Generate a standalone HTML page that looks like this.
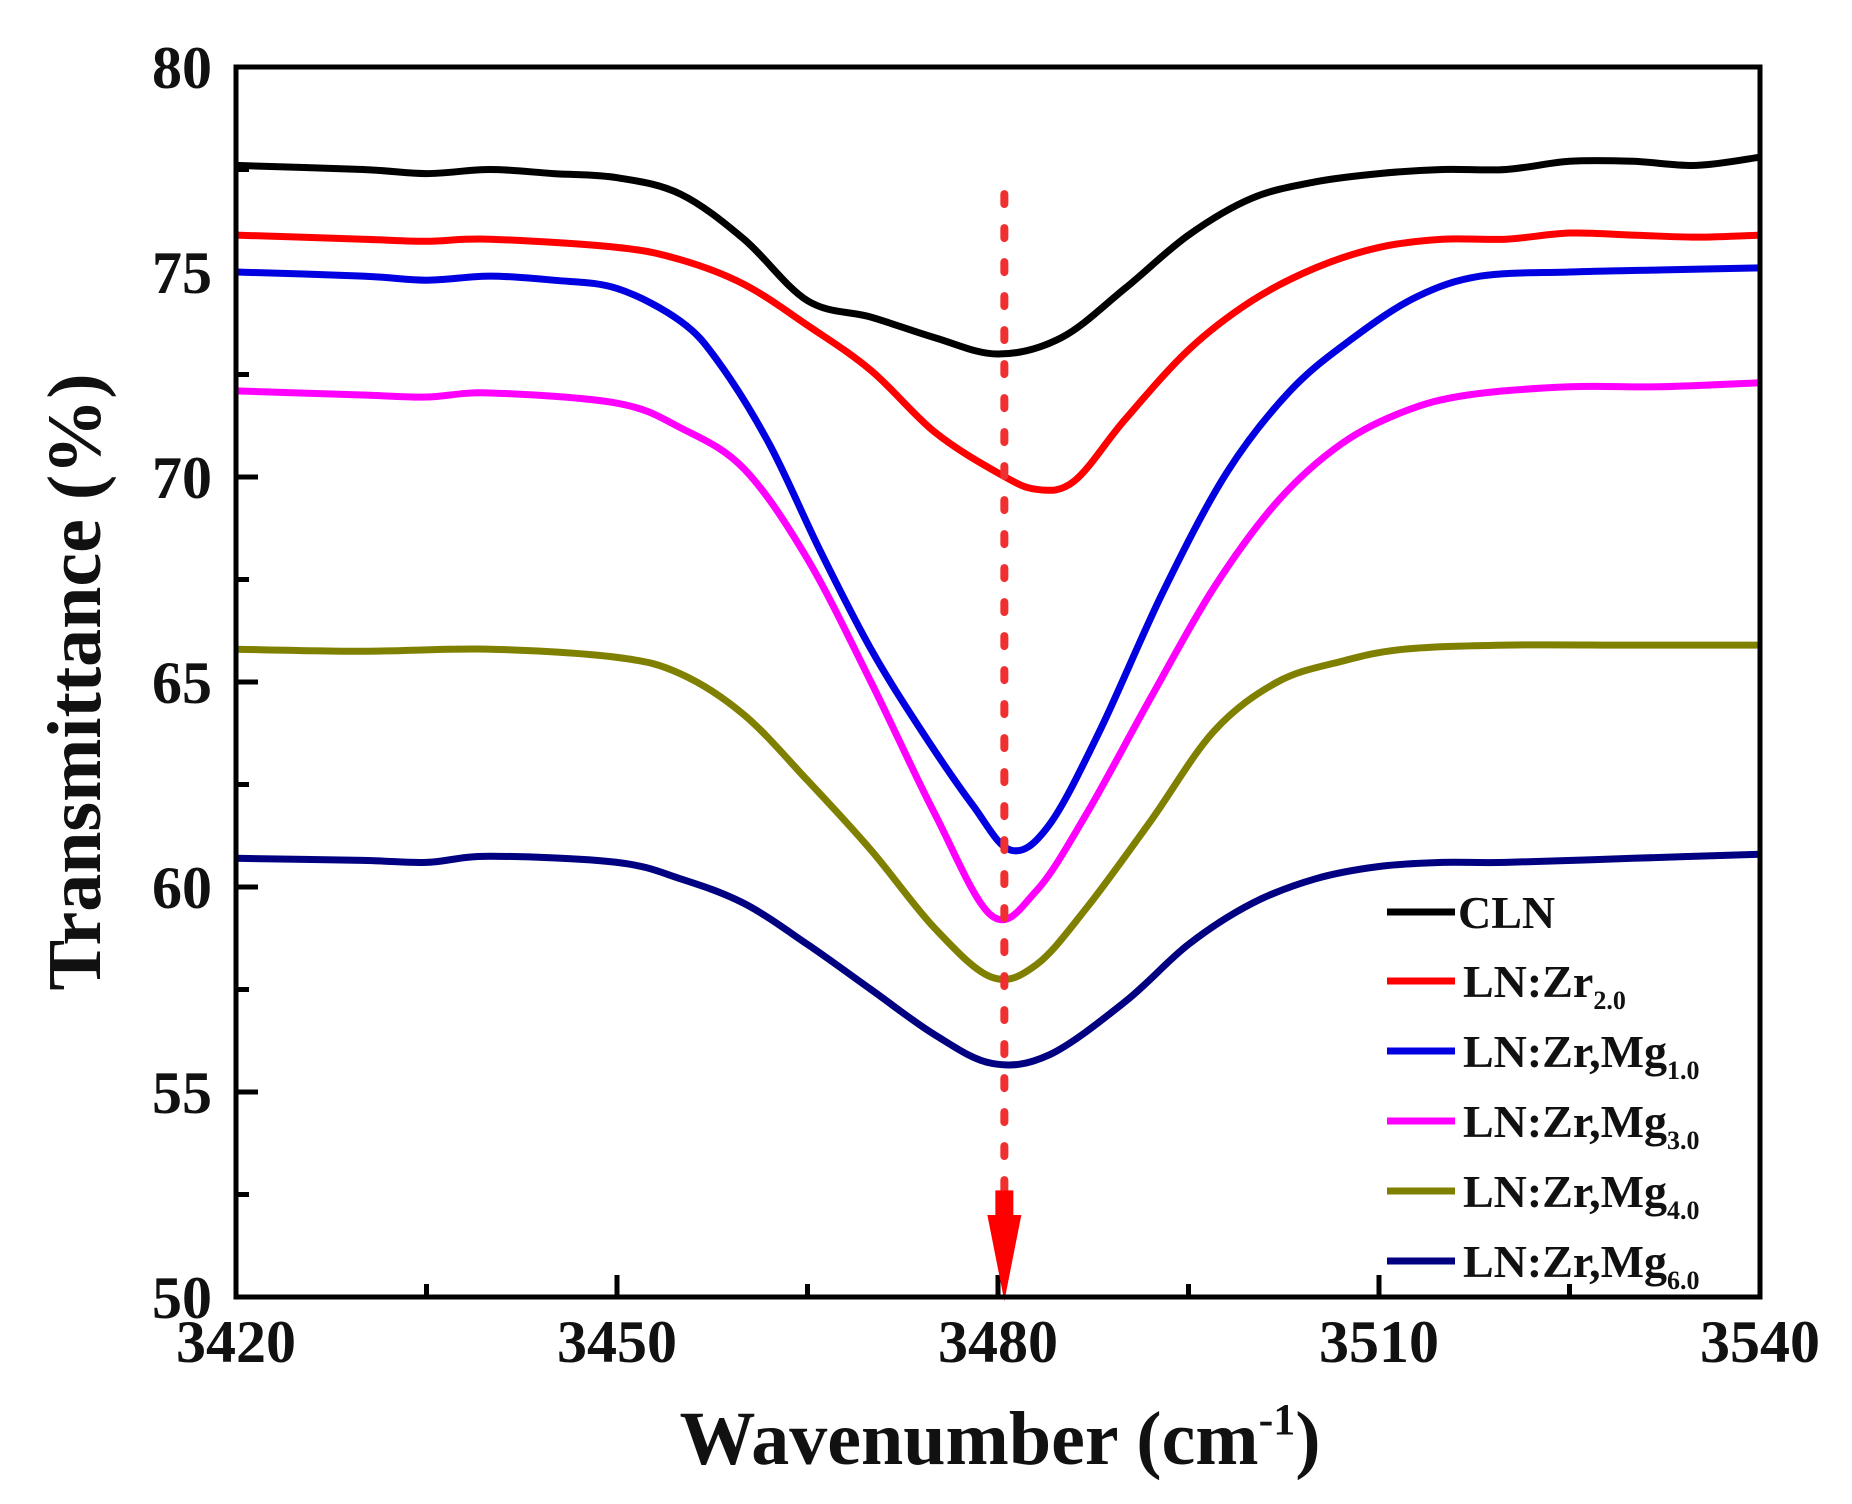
<!DOCTYPE html>
<html><head><meta charset="utf-8"><style>
html,body{margin:0;padding:0;background:#fff;}
svg{display:block;}
text{font-family:"Liberation Serif",serif;font-weight:bold;fill:#111;}
</style></head><body>
<svg id="s" width="1852" height="1504" viewBox="0 0 1852 1504" xmlns="http://www.w3.org/2000/svg">
<g id="g"></g>
<rect x="236" y="67" width="1524" height="1230" fill="none" stroke="#000" stroke-width="5"/>
<g font-size="60" text-anchor="end">
<text x="212" y="88">80</text><text x="212" y="293">75</text><text x="212" y="498">70</text>
<text x="212" y="703">65</text><text x="212" y="908">60</text><text x="212" y="1113">55</text><text x="212" y="1318">50</text>
</g>
<g font-size="60" text-anchor="middle">
<text x="236" y="1362">3420</text><text x="617" y="1362">3450</text><text x="998" y="1362">3480</text>
<text x="1379" y="1362">3510</text><text x="1760" y="1362">3540</text>
</g>
<text x="1000" y="1464" font-size="76" text-anchor="middle">Wavenumber (cm<tspan dy="-30" font-size="44">-1</tspan><tspan dy="30">)</tspan></text>
<text transform="translate(100,682) rotate(-90)" font-size="76" text-anchor="middle">Transmittance (%)</text>
<g font-size="46">
<line x1="1387" y1="912" x2="1455" y2="912" stroke="#000" stroke-width="7"/><text x="1458" y="928">CLN</text>
<line x1="1387" y1="981" x2="1455" y2="981" stroke="#f00" stroke-width="7"/><text x="1463" y="997">LN:Zr<tspan font-size="26" dy="12">2.0</tspan></text>
<line x1="1387" y1="1051" x2="1455" y2="1051" stroke="#0000e0" stroke-width="7"/><text x="1463" y="1067">LN:Zr,Mg<tspan font-size="26" dy="12">1.0</tspan></text>
<line x1="1387" y1="1121" x2="1455" y2="1121" stroke="#f0f" stroke-width="7"/><text x="1463" y="1137">LN:Zr,Mg<tspan font-size="26" dy="12">3.0</tspan></text>
<line x1="1387" y1="1191" x2="1455" y2="1191" stroke="#808000" stroke-width="7"/><text x="1463" y="1207">LN:Zr,Mg<tspan font-size="26" dy="12">4.0</tspan></text>
<line x1="1387" y1="1261" x2="1455" y2="1261" stroke="#000080" stroke-width="7"/><text x="1463" y="1277">LN:Zr,Mg<tspan font-size="26" dy="12">6.0</tspan></text>
</g>
</svg>
<script>
var X=function(v){return 236+(v-3420)*1524/120;},Y=function(v){return 67+(80-v)*41;};
var g=document.getElementById('g'),h="";
for(var v=3420;v<=3540;v+=15){var big=(v-3420)%30==0;h+='<line x1="'+X(v)+'" x2="'+X(v)+'" y1="1297" y2="'+(1297-(big?22:13))+'" stroke="#000" stroke-width="5"/>';}
for(var v=50;v<=80;v+=2.5){var big=v%5==0;h+='<line y1="'+Y(v)+'" y2="'+Y(v)+'" x1="236" x2="'+(236+(big?22:13))+'" stroke="#000" stroke-width="5"/>';}
var S=[["#000",[[3420,77.6],[3430,77.5],[3435,77.4],[3440,77.5],[3445,77.4],[3450,77.3],[3455,76.9],[3460,75.8],[3465,74.3],[3470,73.9],[3475,73.4],[3480,73],[3485,73.4],[3490,74.6],[3495,75.9],[3500,76.8],[3505,77.2],[3510,77.4],[3515,77.5],[3520,77.5],[3525,77.7],[3530,77.7],[3535,77.6],[3540,77.8]]],
["#f00",[[3420,75.9],[3430,75.8],[3435,75.75],[3440,75.8],[3450,75.6],[3455,75.3],[3460,74.7],[3465,73.7],[3470,72.6],[3475,71.1],[3480,70.1],[3483,69.7],[3486,69.9],[3490,71.4],[3495,73.1],[3500,74.3],[3505,75.1],[3510,75.6],[3515,75.8],[3520,75.8],[3525,75.95],[3530,75.9],[3535,75.85],[3540,75.9]]],
["#0000e0",[[3420,75],[3430,74.9],[3435,74.8],[3440,74.9],[3445,74.8],[3450,74.6],[3455,73.8],[3458,72.8],[3462,70.8],[3466,68.2],[3470,65.8],[3474,63.8],[3478,62.0],[3481,60.9],[3484,61.5],[3488,63.8],[3493,67.2],[3498,70.1],[3503,72.1],[3508,73.4],[3513,74.4],[3518,74.9],[3525,75],[3532,75.05],[3540,75.1]]],
["#f0f",[[3420,72.1],[3430,72],[3435,71.95],[3440,72.05],[3450,71.8],[3455,71.2],[3460,70.2],[3465,68.0],[3470,65.0],[3475,61.8],[3479.5,59.3],[3483,59.9],[3487,61.8],[3492,64.6],[3497,67.3],[3502,69.4],[3507,70.8],[3512,71.6],[3517,72.0],[3525,72.2],[3532,72.2],[3540,72.3]]],
["#808000",[[3420,65.8],[3430,65.75],[3440,65.8],[3450,65.6],[3455,65.2],[3460,64.2],[3465,62.6],[3470,60.9],[3475,59],[3479.5,57.8],[3483,58.1],[3487,59.5],[3492,61.6],[3497,63.8],[3502,65],[3507,65.5],[3512,65.8],[3520,65.9],[3530,65.9],[3540,65.9]]],
["#000080",[[3420,60.7],[3430,60.65],[3435,60.6],[3440,60.75],[3450,60.6],[3455,60.2],[3460,59.6],[3465,58.6],[3470,57.5],[3475,56.4],[3479.5,55.7],[3484,55.9],[3490,57.2],[3495,58.6],[3500,59.6],[3505,60.2],[3510,60.5],[3515,60.6],[3520,60.6],[3530,60.7],[3540,60.8]]]];
S.forEach(function(s){var p=s[1].map(function(q){return [X(q[0]),Y(q[1])];});var d="M"+p[0][0]+","+p[0][1];
for(var i=0;i<p.length-1;i++){var p0=p[Math.max(i-1,0)],p1=p[i],p2=p[i+1],p3=p[Math.min(i+2,p.length-1)];
d+=" C"+(p1[0]+(p2[0]-p0[0])/6)+","+(p1[1]+(p2[1]-p0[1])/6)+" "+(p2[0]-(p3[0]-p1[0])/6)+","+(p2[1]-(p3[1]-p1[1])/6)+" "+p2[0]+","+p2[1];}
h+='<path d="'+d+'" fill="none" stroke="'+s[0]+'" stroke-width="7" stroke-linejoin="round"/>';});
var dx=X(3480.5);
h+='<line x1="'+dx+'" x2="'+dx+'" y1="'+Y(76.9)+'" y2="'+Y(51.5)+'" stroke="#f03030" stroke-width="8" stroke-dasharray="10,24" stroke-linecap="round"/>';
h+='<polygon points="'+(dx-17)+','+Y(52)+' '+(dx+17)+','+Y(52)+' '+dx+','+Y(49.9)+'" fill="#f00"/><rect x="'+(dx-9)+'" y="'+Y(52.6)+'" width="18" height="26" fill="#f00"/>';
g.innerHTML=h;
</script>
</body></html>
